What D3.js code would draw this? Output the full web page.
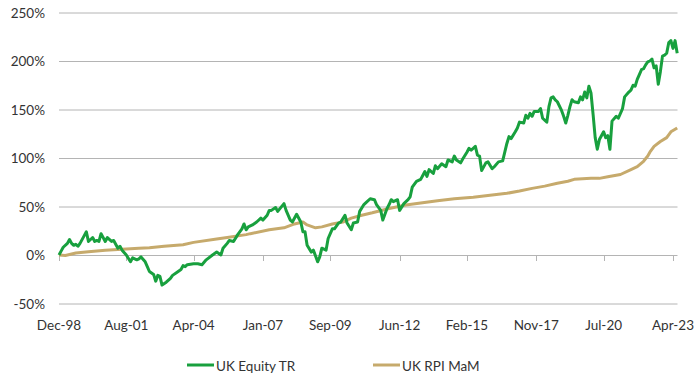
<!DOCTYPE html>
<html>
<head>
<meta charset="utf-8">
<script src="https://cdn.jsdelivr.net/npm/d3@7"></script>
<style>
  html, body { margin: 0; padding: 0; background: #fff; }
  svg text { font-family: Lato, "Noto Sans", sans-serif; fill: #333; }
</style>
</head>
<body>
<div id="chart"></div>
<script>
// Month offsets are counted from Dec-1998 (0 = Dec-98)
const equityMonths = [0,1,2,4,5,6,7,8,9,10,12,13,14,15,16,17,18,19,20,22,23,25,26,28,29,30,32,34,35,37,38,39,41,42,43,45,46,47,48,49,51,53,54,56,58,59,60,61,64,66,68,70,73,75,77,78,80,81,83,85,87,88,89,90,92,94,96,97,99,100,101,103,104,107,108,110,111,113,115,116,117,118,120,121,123,124,125,127,128,130,131,133,134,136,137,139,140,142,143,145,146,148,150,151,153,154,156,157,158,159,161,162,164,166,167,168,170,172,173,174,175,176,178,179,180,182,184,185,187,188,189,191,192,194,195,196,198,199,200,201,203,204,206,207,209,211,212,213,214,215,217,218,219,221,222,223,224,225,226,228,229,230,232,233,234,235,236,237,239,240,241,242,243,244,245,247,248,249,250,251,252,253,254,255,256,257,259,260,261,262,263,265,266,268,269,271,272,273,274,275,276,277,278,279,280,281,282,283,284,285,286,287,288,289,290,291,292,293,294];
const equityTR = [0,4,8,12,16,12,10,11,9,12,20,24,14,16,18,14,15,14,22,14,18,14,15,7,9,5,0,-7,-3,-5,-4,-2,-7,-12,-17,-20,-27,-21,-22,-31,-28,-24,-21,-18,-15,-11,-12,-10,-9,-9,-10,-5,0,3,0,7,12,15,14,21,27,32,26,29,31,34,38,36,41,46,46,49,45,53,46,36,34,42,34,24,24,10,3,5,-7,-2,7,5,17,27,27,33,34,41,33,26,33,34,45,52,54,58,57,52,46,36,48,52,57,55,57,46,53,57,60,70,76,78,82,86,81,88,84,92,89,94,91,98,96,102,98,95,99,106,110,108,112,103,102,87,95,96,89,91,96,97,106,115,122,120,127,131,137,136,144,141,146,143,148,148,151,141,137,153,162,163,160,158,149,143,136,144,153,160,158,157,163,160,168,162,174,167,145,121,109,119,127,121,123,109,138,143,141,151,163,168,170,175,174,181,186,191,192,196,199,200,202,193,195,176,189,205,206,208,219,221,213,221,208];

const rpiMonths = [0,3,8,14,22,30,38,43,50,59,64,75,80,89,91,100,107,112,116,118,122,125,130,135,139,144,149,157,165,172,180,188,197,205,213,219,225,231,237,242,245,253,257,261,267,272,275,278,280,281,283,286,289,291,294];
const rpiMoM = [0,-0.5,2,3.4,5,6,7,7.5,9,10.5,13,16.5,18,21,22,26,28,32,34,31,28,29,32,34,38,41,43.5,48,51.5,53.5,56,58,59.5,61.5,63.6,66,68.7,71,74,76,78,79,79,80.7,83,88,91,96.6,102,106,112,117,121,127,131];

const seriesNames = ["UK Equity TR", "UK RPI MaM"];
const seriesColors = ["#18a03e", "#c6aa6c"];

const xTickLabels = ["Dec-98","Aug-01","Apr-04","Jan-07","Sep-09","Jun-12","Feb-15","Nov-17","Jul-20","Apr-23"];
const yTicks = [-50, 0, 50, 100, 150, 200, 250];

const monthNames = ["Jan","Feb","Mar","Apr","May","Jun","Jul","Aug","Sep","Oct","Nov","Dec"];
function labelToMonth(lbl) {
  const [mon, yy] = lbl.split("-");
  const year = +yy < 50 ? 2000 + +yy : 1900 + +yy;
  return (year - 1998) * 12 + monthNames.indexOf(mon) - 11;
}

const W = 699, H = 378;
const svg = d3.select("#chart").append("svg").attr("width", W).attr("height", H);

const x = d3.scaleLinear().domain([0, 294]).range([59, 677.2]);
const y = d3.scaleLinear().domain([-50, 250]).range([303.5, 12.5]);

// gridlines
svg.append("g").selectAll("line").data(yTicks).join("line")
  .attr("x1", 59).attr("x2", 677.5)
  .attr("y1", d => y(d) + 0.5).attr("y2", d => y(d) + 0.5)
  .attr("stroke", "#b4b4b4").attr("stroke-width", 1);

// y labels
svg.append("g").selectAll("text").data(yTicks).join("text")
  .attr("x", 45).attr("y", d => y(d) + 5)
  .attr("text-anchor", "end").style("font-size", "13.5px")
  .text(d => d + "%");

// x tick marks on 0% axis
const tickMonths = xTickLabels.map(labelToMonth);
svg.append("g").selectAll("line").data(tickMonths).join("line")
  .attr("x1", d => Math.round(x(d)) + 0.5).attr("x2", d => Math.round(x(d)) + 0.5)
  .attr("y1", y(0)).attr("y2", y(0) + 6)
  .attr("stroke", "#b4b4b4").attr("stroke-width", 1);

svg.append("g").selectAll("text").data(xTickLabels).join("text")
  .attr("x", d => x(labelToMonth(d))).attr("y", 330)
  .attr("text-anchor", "middle").style("font-size", "13.5px")
  .text(d => d);

const line = d3.line().x(d => x(d[0])).y(d => y(d[1]));

const rpiData = rpiMonths.map((m, i) => [m, rpiMoM[i]]);
const eqData = equityMonths.map((m, i) => [m, equityTR[i]]);

svg.append("path").datum(rpiData)
  .attr("d", line).attr("fill", "none")
  .attr("stroke", seriesColors[1]).attr("stroke-width", 3).attr("stroke-linejoin", "round");

svg.append("path").datum(eqData)
  .attr("d", line).attr("fill", "none")
  .attr("stroke", seriesColors[0]).attr("stroke-width", 3).attr("stroke-linejoin", "round");

// legend
const legendX = [187, 373];
seriesNames.forEach((name, i) => {
  const g = svg.append("g");
  g.append("line").attr("x1", legendX[i]).attr("x2", legendX[i] + 27)
    .attr("y1", 365).attr("y2", 365)
    .attr("stroke", seriesColors[i]).attr("stroke-width", 3);
  g.append("text").attr("x", legendX[i] + 29).attr("y", 370.5)
    .style("font-size", "13.5px").text(name);
});
</script>
</body>
</html>
